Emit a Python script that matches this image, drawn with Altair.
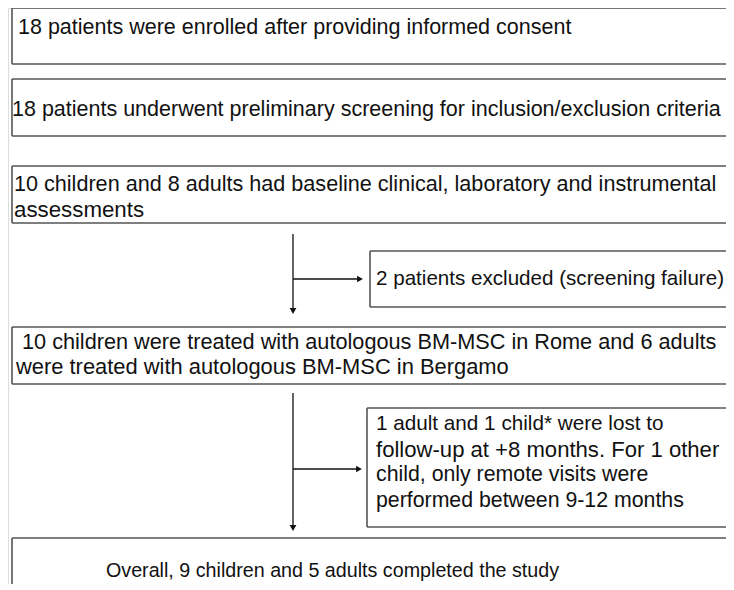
import altair as alt
import pandas as pd

# ---- content ----
box1_lines = ["18 patients were enrolled after providing informed consent"]
box2_lines = ["18 patients underwent preliminary screening for inclusion/exclusion criteria"]
box3_lines = ["10 children and 8 adults had baseline clinical, laboratory and instrumental",
              "assessments"]
excl1_lines = ["2 patients excluded (screening failure)"]
box4_lines = ["10 children were treated with autologous BM-MSC in Rome and 6 adults",
              "were treated with autologous BM-MSC in Bergamo"]
excl2_lines = ["1 adult and 1 child* were lost to",
               "follow-up at +8 months. For 1 other",
               "child, only remote visits were",
               "performed between 9-12 months"]
box5_lines = ["Overall, 9 children and 5 adults completed the study"]

# ---- layout (page pixel coordinates) ----
OFF = 8
W, H = 718, 576
RIGHT = OFF + W
BOTTOM = OFF + H

box_x0 = [12, 12, 12, 370, 12, 367, 12]
box_y0 = [8, 79, 166, 251, 327, 408, 538]
box_y1 = [64, 136, 223, 307, 384, 527, BOTTOM]

segs = []
for x0, y0, y1 in zip(box_x0, box_y0, box_y1):
    segs.append({"x0": x0, "x1": RIGHT, "y0": y0, "y1": y0})      # top
    if y1 < BOTTOM:
        segs.append({"x0": x0, "x1": RIGHT, "y0": y1, "y1": y1})  # bottom
    segs.append({"x0": x0, "x1": x0, "y0": y0, "y1": y1})         # left
box_edges = pd.DataFrame(segs)

text_rows = []
def add(lines, xs, y0, lh, sizes):
    for i, t in enumerate(lines):
        x = xs[i] if isinstance(xs, list) else xs
        text_rows.append({"t": t, "x": x, "y": y0 + i * lh, "fs": sizes[i]})

add(box1_lines, 18, 28, 0, [21.5])
add(box2_lines, 12, 110, 0, [21.5])
add(box3_lines, 14, 185, 25, [21.6, 22.3])
add(excl1_lines, 376, 279, 0, [20.6])
add(box4_lines, [22, 16], 342, 25, [21.7, 21.9])
add(excl2_lines, 376, 424, 25.5, [20.7, 22.1, 21.3, 21.3])
add(box5_lines, 106, 571, 0, [19.7])
texts = pd.DataFrame(text_rows)

arrow_lines = pd.DataFrame({
    "x0": [293, 293, 293, 293],
    "x1": [293, 361, 293, 360],
    "y0": [234, 279, 393, 469],
    "y1": [310, 279, 527, 469],
})
heads = pd.DataFrame({
    "x": [293, 360, 293, 359],
    "y": [311, 279, 528, 469],
    "shape": ["triangle-down", "triangle-right", "triangle-down", "triangle-right"],
})

xs = alt.Scale(domain=[OFF, RIGHT], range=[0, W])
ys = alt.Scale(domain=[OFF, BOTTOM], range=[0, H])

edges = alt.Chart(box_edges).mark_rule(color="#555555", strokeWidth=1.6).encode(
    x=alt.X("x0:Q", scale=xs, axis=None),
    x2="x1:Q",
    y=alt.Y("y0:Q", scale=ys, axis=None),
    y2="y1:Q",
)

rules = alt.Chart(arrow_lines).mark_rule(color="#111111", strokeWidth=1.3).encode(
    x=alt.X("x0:Q", scale=xs, axis=None),
    x2="x1:Q",
    y=alt.Y("y0:Q", scale=ys, axis=None),
    y2="y1:Q",
)

arrowheads = alt.Chart(heads).mark_point(filled=True, color="#111111", size=45, opacity=1).encode(
    x=alt.X("x:Q", scale=xs, axis=None),
    y=alt.Y("y:Q", scale=ys, axis=None),
    shape=alt.Shape("shape:N", scale=None),
)

labels = alt.Chart(texts).mark_text(
    align="left", baseline="middle", font="Liberation Sans", color="#111111"
).encode(
    x=alt.X("x:Q", scale=xs, axis=None),
    y=alt.Y("y:Q", scale=ys, axis=None),
    size=alt.Size("fs:Q", scale=None),
    text="t:N",
)

chart = alt.layer(edges, rules, arrowheads, labels).properties(
    width=W, height=H, padding=0, autosize=alt.AutoSizeParams(type="none")
).configure_view(stroke=None).configure(background="white")

chart.save("out.html", embed_options={"renderer": "svg", "actions": False})
